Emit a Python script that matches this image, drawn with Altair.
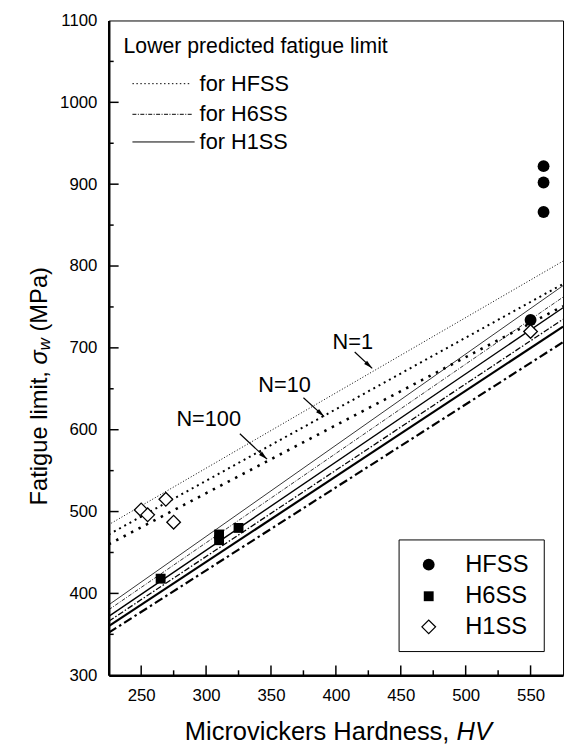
import altair as alt
import pandas as pd

# ---------------- data ----------------
line_hv = [225, 575]
hfss_n1 = [484, 806]
hfss_n10 = [472, 778]
hfss_n100 = [460, 751]
h1ss_n1 = [386, 776]
h1ss_n10 = [372, 749]
h1ss_n100 = [360, 726]
h6ss_n1 = [380, 762]
h6ss_n10 = [366, 735]
h6ss_n100 = [352, 707]

hfss_hv = [550, 560, 560, 560]
hfss_sw = [734, 866, 902, 922]
h6ss_hv = [265, 310, 310, 325]
h6ss_sw = [418, 465, 472, 480]
h1ss_hv = [250, 255, 269, 275, 550]
h1ss_sw = [502, 496, 515, 487, 720]

ann_text = ["N=1", "N=10", "N=100"]
ann_hv = [413, 360.5, 302]
ann_sw = [707, 654, 613]
arrow_hv0 = [414.5, 375, 326]
arrow_sw0 = [695, 639, 595]
arrow_hv1 = [428, 391, 347]
arrow_sw1 = [675, 616, 564]

x_major = [250, 300, 350, 400, 450, 500, 550]
x_minor = [275, 325, 375, 425, 475, 525]
y_major = [300, 400, 500, 600, 700, 800, 900, 1000, 1100]
y_minor = [350, 450, 550, 650, 750, 850, 950, 1050]

FONT = "Liberation Sans"
W, H = 460, 663

xscale = alt.Scale(domain=[225, 575], nice=False, zero=False)
yscale = alt.Scale(domain=[300, 1100], nice=False, zero=False)
xaxis = alt.Axis(values=x_major, ticks=False, grid=False, labelFontSize=17, labelFont=FONT,
                 labelColor="black", labelPadding=13, domainWidth=2.5, domainColor="black",
                 labelFlush=False, format="d")
yaxis = alt.Axis(values=y_major, ticks=False, grid=False, labelFontSize=17, labelFont=FONT,
                 labelColor="black", labelPadding=12, domainWidth=2.5, domainColor="black",
                 labelFlush=False, format="d")


def ex(f):
    return alt.X(f, type="quantitative", scale=xscale, axis=xaxis, title="")


def ey(f):
    return alt.Y(f, type="quantitative", scale=yscale, axis=yaxis, title="")


def line(vals, dash, width):
    df = pd.DataFrame({"hv": line_hv, "sw": vals})
    kw = dict(color="black", strokeWidth=width, clip=True)
    if dash:
        kw["strokeDash"] = dash
    return alt.Chart(df).mark_line(**kw).encode(x=ex("hv"), y=ey("sw"))


layers = []
# inward ticks
layers.append(alt.Chart(pd.DataFrame({"v": y_major[1:-1]})).mark_rule(color="black", strokeWidth=1.5)
              .encode(y=ey("v"), x=alt.value(0), x2=alt.value(10)))
layers.append(alt.Chart(pd.DataFrame({"v": y_minor})).mark_rule(color="black", strokeWidth=1.5)
              .encode(y=ey("v"), x=alt.value(0), x2=alt.value(5)))
layers.append(alt.Chart(pd.DataFrame({"v": x_major})).mark_rule(color="black", strokeWidth=1.5)
              .encode(x=ex("v"), y=alt.value(H), y2=alt.value(H - 10)))
layers.append(alt.Chart(pd.DataFrame({"v": x_minor})).mark_rule(color="black", strokeWidth=1.5)
              .encode(x=ex("v"), y=alt.value(H), y2=alt.value(H - 5)))

# prediction lines
layers += [
    line(hfss_n1, [1, 2], 1.0),
    line(hfss_n10, [2, 4], 2.0),
    line(hfss_n100, [2.5, 6], 2.6),
    line(h1ss_n1, None, 0.8),
    line(h1ss_n10, None, 1.4),
    line(h1ss_n100, None, 2.2),
    line(h6ss_n1, [4, 1.5, 1, 1.5], 0.8),
    line(h6ss_n10, [6, 2, 1.5, 2], 1.3),
    line(h6ss_n100, [9, 3.5, 2.5, 3.5], 2.2),
]

# data points
layers.append(alt.Chart(pd.DataFrame({"hv": hfss_hv, "sw": hfss_sw}))
              .mark_point(shape="circle", filled=True, size=144, color="black", opacity=1)
              .encode(x=ex("hv"), y=ey("sw")))
layers.append(alt.Chart(pd.DataFrame({"hv": h6ss_hv, "sw": h6ss_sw}))
              .mark_point(shape="square", filled=True, size=100, color="black", opacity=1)
              .encode(x=ex("hv"), y=ey("sw")))
layers.append(alt.Chart(pd.DataFrame({"hv": h1ss_hv, "sw": h1ss_sw}))
              .mark_point(shape="diamond", filled=True, fill="white", stroke="black",
                          strokeWidth=1.3, size=190, opacity=1)
              .encode(x=ex("hv"), y=ey("sw")))

# annotations N=1, N=10, N=100 with arrows
ann = pd.DataFrame({"t": ann_text, "hv": ann_hv, "sw": ann_sw})
layers.append(alt.Chart(ann).mark_text(font=FONT, fontSize=22, color="black", align="center",
                                       baseline="middle")
              .encode(x=ex("hv"), y=ey("sw"), text="t:N"))
arr = pd.DataFrame({"hv": arrow_hv0, "sw": arrow_sw0, "hv2": arrow_hv1, "sw2": arrow_sw1})
layers.append(alt.Chart(arr).mark_rule(color="black", strokeWidth=1.2)
              .encode(x=ex("hv"), y=ey("sw"), x2="hv2", y2="sw2"))
layers.append(alt.Chart(arr).mark_point(shape="M0,0L0.5,2L-0.5,2Z", filled=True, color="black",
                                        size=81, angle=132, opacity=1)
              .encode(x=ex("hv2"), y=ey("sw2")))

one = pd.DataFrame({"a": [0]})


def txt(s, x, y, size, style="normal", align="left", angle=0, baseline="middle"):
    kw = dict(text=s, font=FONT, fontSize=size, fontStyle=style, color="black",
              align=align, baseline=baseline)
    if angle:
        kw["angle"] = angle
    return alt.Chart(one).mark_text(**kw).encode(x=alt.value(x), y=alt.value(y))


# upper-left line legend
layers.append(txt("Lower predicted fatigue limit", 15, 27, 21.5))
leg_y = [64, 95, 123]
layers.append(alt.Chart(one).mark_rule(color="black", strokeWidth=1.0, strokeDash=[1.5, 2.5])
              .encode(x=alt.value(24), x2=alt.value(83), y=alt.value(leg_y[0])))
layers.append(alt.Chart(one).mark_rule(color="black", strokeWidth=1.0, strokeDash=[4, 1.5, 1, 1.5])
              .encode(x=alt.value(24), x2=alt.value(85), y=alt.value(leg_y[1])))
layers.append(alt.Chart(one).mark_rule(color="black", strokeWidth=1.0)
              .encode(x=alt.value(24), x2=alt.value(87), y=alt.value(leg_y[2])))
for s, yy in zip(["for HFSS", "for H6SS", "for H1SS"], leg_y):
    layers.append(txt(s, 92, yy, 22))

# lower-right symbol legend
layers.append(alt.Chart(one).mark_rect(fill="white", stroke="black", strokeWidth=1)
              .encode(x=alt.value(294), x2=alt.value(441), y=alt.value(526), y2=alt.value(639)))
sym_y = [551, 583, 614]
layers.append(alt.Chart(one).mark_point(shape="circle", filled=True, size=144, color="black", opacity=1)
              .encode(x=alt.value(324), y=alt.value(sym_y[0])))
layers.append(alt.Chart(one).mark_point(shape="square", filled=True, size=100, color="black", opacity=1)
              .encode(x=alt.value(324), y=alt.value(sym_y[1])))
layers.append(alt.Chart(one).mark_point(shape="diamond", filled=True, fill="white", stroke="black",
                                        strokeWidth=1.3, size=190, opacity=1)
              .encode(x=alt.value(324), y=alt.value(sym_y[2])))
for s, yy in zip(["HFSS", "H6SS", "H1SS"], sym_y):
    layers.append(txt(s, 361, yy, 24))

# axis titles (with italic parts)
XT_FS = 25.8
layers.append(txt("Microvickers Hardness,", 77, 721, XT_FS))
layers.append(txt("HV", 77 + 10.668 * XT_FS, 721, XT_FS, style="italic"))

yt_x = -70
YT_FS = 24
y0 = 491
w1 = 5.946 * YT_FS           # "Fatigue limit, "
ws = 0.60 * YT_FS            # sigma
wsub = 0.722 * 17            # subscript w
layers.append(txt("Fatigue limit,", yt_x, y0, YT_FS, angle=270))
layers.append(txt("σ", yt_x, y0 - w1, YT_FS, style="italic", angle=270))
layers.append(txt("w", yt_x + 6, y0 - w1 - ws, 17, style="italic", angle=270))
layers.append(txt("(MPa)", yt_x, y0 - w1 - ws - wsub - 0.278 * YT_FS, YT_FS, angle=270))

chart = alt.layer(*layers).properties(
    width=W, height=H,
    autosize=alt.AutoSizeParams(type="none"),
    padding={"left": 102, "top": 8, "right": 2, "bottom": 67},
    background="white",
).configure_view(stroke="black", strokeWidth=1)

chart.save("out.html", embed_options={"renderer": "svg", "actions": False})
